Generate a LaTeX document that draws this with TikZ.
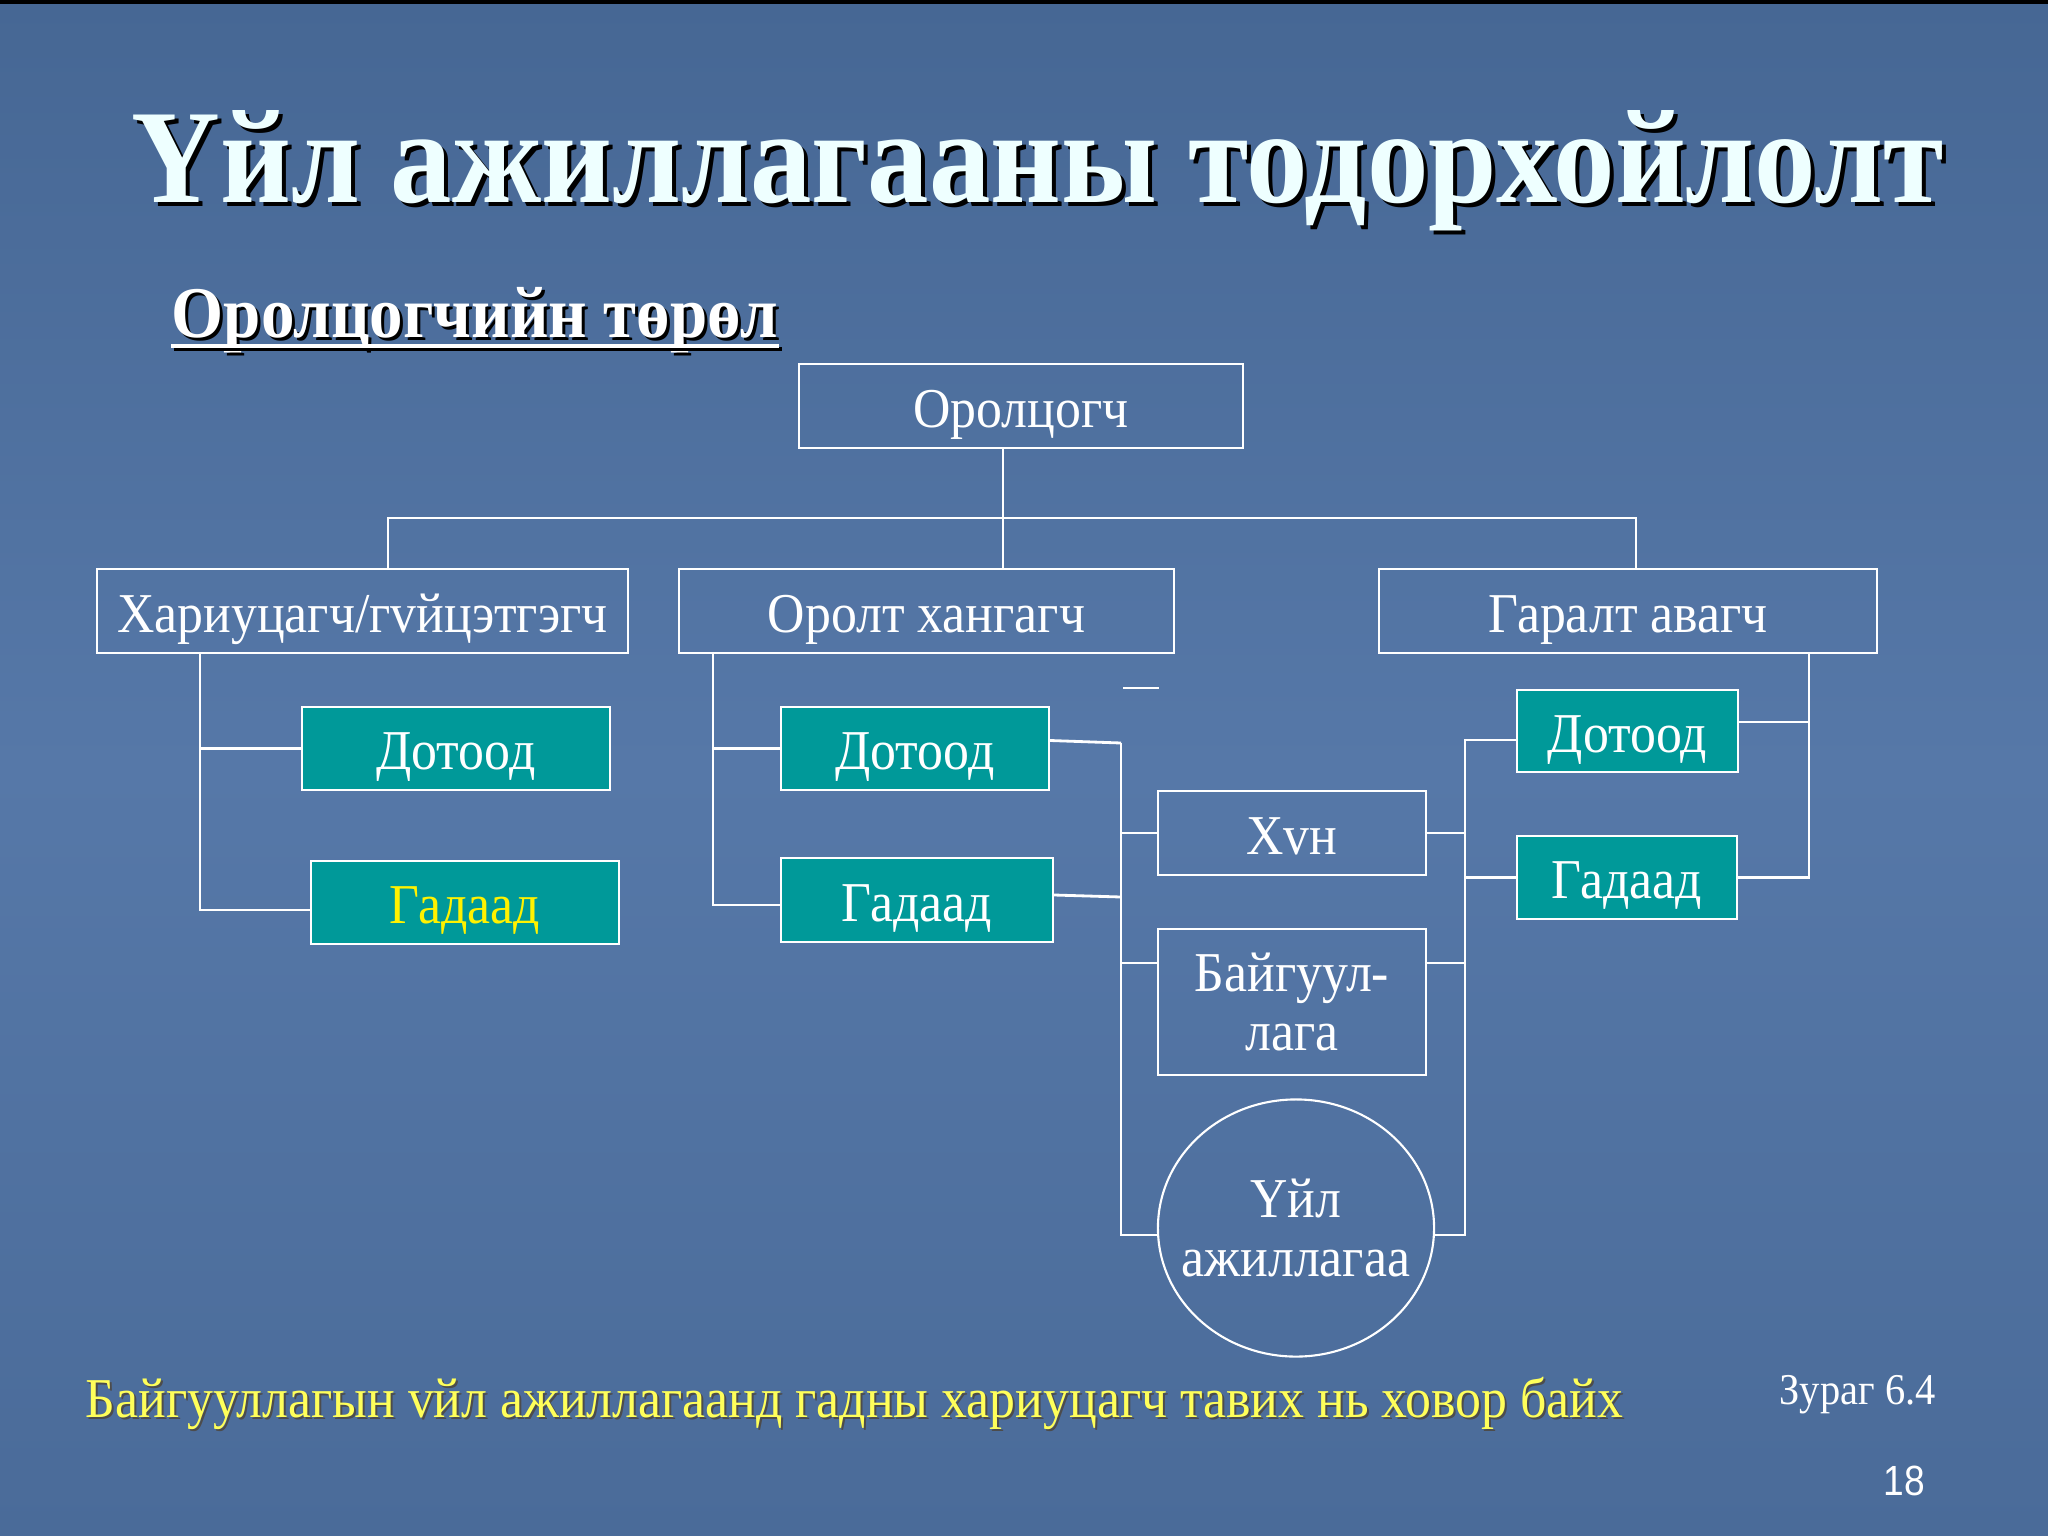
\documentclass[tikz,border=0pt]{standalone}
\usepackage{fontspec}
\setmainfont{Liberation Serif}[FakeStretch=0.92]
\newfontfamily\sansf{Liberation Sans}[FakeStretch=0.88]
\usetikzlibrary{calc,shapes.geometric}
\definecolor{bgtop}{RGB}{70,103,148}
\definecolor{bgmid}{RGB}{86,120,168}
\definecolor{bgbot}{RGB}{74,107,153}
\definecolor{tealfill}{RGB}{0,153,153}
\definecolor{titlec}{RGB}{238,255,255}
\definecolor{noteyellow}{RGB}{255,255,90}
\tikzset{
 boxbase/.style={draw=white, line width=0.6pt, text=white, font=\fontsize{16}{16.5}\selectfont, inner sep=0pt, align=center},
 plainbox/.style={boxbase, text height=15pt, text depth=3pt},
 multibox/.style={boxbase},
 tealbox/.style={plainbox, fill=tealfill},
 link/.style={draw=white, line width=0.8pt},
 titletext/.style={anchor=base west, font=\bfseries\fontsize{38}{44}\selectfont, inner sep=0pt},
 subtext/.style={anchor=base west, font=\bfseries\fontsize{20.7}{24}\selectfont, inner sep=0pt},
}
\begin{document}
\begin{tikzpicture}[x=0.01cm,y=-0.01cm]
\useasboundingbox (0,0) rectangle (2048,1536);
\shade[top color=bgtop, bottom color=bgbot, middle color=bgmid] (0,0) rectangle (2048,1536);
\fill[black] (0,0) rectangle (2048,4);

% title
\node[titletext, text=black] (titleshadow) at (135,206) {Үйл ажиллагааны тодорхойлолт};
\node[titletext, text=titlec] (title) at (131,202) {Үйл ажиллагааны тодорхойлолт};

% subtitle
\node[subtext, text=black] (subshadow) at (174,340) {Оролцогчийн төрөл};
\node[subtext, text=white] (sub) at (171,337) {Оролцогчийн төрөл};
\draw[black, line width=1.4pt] ([xshift=0.03cm,yshift=-0.12cm]sub.base west) -- ([xshift=0.03cm,yshift=-0.12cm]sub.base east);
\draw[white, line width=1.4pt] ([yshift=-0.09cm]sub.base west) -- ([yshift=-0.09cm]sub.base east);

% top level
\node[plainbox, minimum width=4.44cm, minimum height=0.84cm] (orol) at (1021,406) {Оролцогч};
\node[plainbox, minimum width=5.31cm, minimum height=0.84cm] (hariu) at (362.5,611) {Хариуцагч/гvйцэтгэгч};
\node[plainbox, minimum width=4.95cm, minimum height=0.84cm] (oroltH) at (926.5,611) {Оролт хангагч};
\node[plainbox, minimum width=4.98cm, minimum height=0.84cm] (garalt) at (1628,611) {Гаралт авагч};

% teal boxes
\node[tealbox, minimum width=3.08cm, minimum height=0.83cm] (lD) at (456,748.5) {Дотоод};
\node[tealbox, minimum width=3.08cm, minimum height=0.83cm, text=yellow] (lG) at (465,902.5) {Гадаад};
\node[tealbox, minimum width=2.68cm, minimum height=0.83cm] (mD) at (915,748.5) {Дотоод};
\node[tealbox, minimum width=2.72cm, minimum height=0.84cm] (mG) at (917,900) {Гадаад};
\node[tealbox, minimum width=2.21cm, minimum height=0.82cm] (rD) at (1627.5,731) {Дотоод};
\node[tealbox, minimum width=2.20cm, minimum height=0.83cm] (rG) at (1627,877.5) {Гадаад};

% middle column
\node[plainbox, minimum width=2.68cm, minimum height=0.84cm] (hun) at (1292,833) {Хvн};
\node[multibox, minimum width=2.68cm, minimum height=1.46cm] (baig) at (1292,1002) {Байгуул-\\лага};
\node[draw=white, line width=0.6pt, ellipse, inner sep=0pt, minimum width=2.76cm, minimum height=2.57cm] (circ) at (1296,1228) {};
\node[multibox, draw=none] (circtext) at (circ.center) {Үйл\\ажиллагаа};

% connectors: top level
\coordinate (busL) at (388,518);
\coordinate (busR) at (1636,518);
\coordinate (orolS) at ([xshift=-0.18cm]orol.south);
\draw[link] (orolS) -- (orolS |- oroltH.north);
\draw[link] (busL |- hariu.north) -- (busL) -- (busR) -- (busR |- garalt.north);

% left column
\coordinate (lc) at (200,910);
\draw[link] (lc |- hariu.south) -- (lc) -- (lG.west |- lc);
\draw[link] (lc |- lD.west) -- (lD.west);

% middle-left column
\coordinate (mc) at (713,905);
\draw[link] (mc |- oroltH.south) -- (mc) -- (mG.west |- mc);
\draw[link] (mc |- mD.west) -- (mD.west);

% stray dash
\coordinate (dashA) at (1123,688);
\coordinate (dashB) at (1159,688);
\draw[link] (dashA) -- (dashB);

% column to the left of the middle boxes
\coordinate (c1top) at (1121,743);
\coordinate (c1bot) at (1121,1235);
\coordinate (c1g) at (1121,897);
\coordinate (baigW) at ([yshift=0.39cm]baig.west);
\coordinate (baigE) at ([yshift=0.39cm]baig.east);
\draw[link] (c1top) -- (c1bot) -- (circ.west |- c1bot);
\draw[link] ([yshift=0.08cm]mD.east) -- (c1top);
\draw[link] ([yshift=0.05cm]mG.east) -- (c1g);
\draw[link] (c1top |- hun.west) -- (hun.west);
\draw[link] (c1top |- baigW) -- (baigW);

% column to the right of the middle boxes
\coordinate (c2top) at (1465,740);
\coordinate (c2bot) at (1465,1235);
\draw[link] (rD.west |- c2top) -- (c2top) -- (c2bot) -- (circ.east |- c2bot);
\draw[link] (hun.east) -- (c2top |- hun.east);
\draw[link] (baigE) -- (c2top |- baigE);
\draw[link] (rG.west) -- (c2top |- rG.west);

% right column
\coordinate (rc) at (1809,877.5);
\coordinate (rDE) at ([yshift=0.09cm]rD.east);
\draw[link] (rc |- garalt.south) -- (rc) -- (rG.east);
\draw[link] (rDE) -- (rc |- rDE);

% footer texts
\node[anchor=base west, inner sep=0pt, text=black!70, font=\fontsize{16}{18}\selectfont] (noteshadow) at (87,1419) {Байгууллагын vйл ажиллагаанд гадны хариуцагч тавих нь ховор байх};
\node[anchor=base west, inner sep=0pt, text=noteyellow, font=\fontsize{16}{18}\selectfont] (note) at (85,1417) {Байгууллагын vйл ажиллагаанд гадны хариуцагч тавих нь ховор байх};
\node[anchor=base west, inner sep=0pt, text=white, font=\fontsize{12.5}{15}\selectfont] (fig) at (1779,1404) {Зураг 6.4};
\node[anchor=base west, inner sep=0pt, text=white, font=\sansf\fontsize{12}{14}\selectfont] (page) at (1883,1495) {18};
\end{tikzpicture}
\end{document}
